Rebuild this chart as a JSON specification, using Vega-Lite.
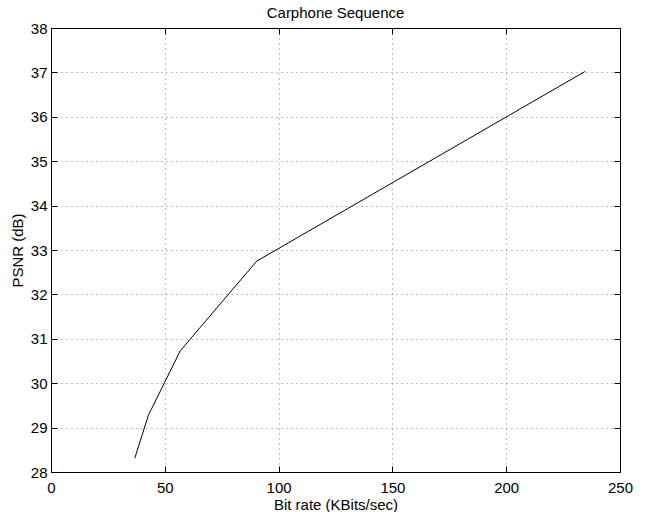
{
  "$schema": "https://vega.github.io/schema/vega-lite/v6.json",
  "width": 569,
  "height": 444,
  "autosize": {"type": "none"},
  "padding": {"left": 51, "top": 28, "right": 27, "bottom": 40},
  "background": "white",
  "title": {
    "text": "Carphone Sequence",
    "font": "Liberation Sans",
    "fontSize": 15,
    "fontWeight": "normal",
    "color": "black",
    "baseline": "alphabetic",
    "offset": 9,
    "dy": 21
  },
  "config": {
    "view": {"stroke": "black", "strokeWidth": 1},
    "axis": {
      "labelFont": "Liberation Sans",
      "titleFont": "Liberation Sans",
      "labelFontSize": 15,
      "titleFontSize": 15,
      "titleFontWeight": "normal",
      "labelColor": "black",
      "titleColor": "black",
      "domain": false,
      "tickColor": "black",
      "tickSize": -6,
      "tickWidth": 1
    }
  },
  "data": {
    "values": [
      {"rate": 36.8, "psnr": 28.31},
      {"rate": 42.8, "psnr": 29.28},
      {"rate": 56.8, "psnr": 30.73},
      {"rate": 90.4, "psnr": 32.75},
      {"rate": 234.6, "psnr": 37.02}
    ]
  },
  "resolve": {"axis": {"x": "independent", "y": "independent"}},
  "layer": [
    {
      "mark": {"type": "line", "color": "black", "strokeWidth": 1},
      "encoding": {
        "x": {
          "field": "rate",
          "type": "quantitative",
          "scale": {"domain": [0, 250], "nice": false, "zero": false},
          "axis": {
            "orient": "bottom",
            "title": "Bit rate (KBits/sec)",
            "values": [0, 50, 100, 150, 200, 250],
            "grid": true,
            "gridColor": "black",
            "gridOpacity": 0.5,
            "gridDash": [1, 4],
            "labelPadding": 14,
            "titlePadding": 2,
            "labelFlush": false
          }
        },
        "y": {
          "field": "psnr",
          "type": "quantitative",
          "scale": {"domain": [28, 38], "nice": false, "zero": false},
          "axis": {
            "orient": "left",
            "title": "PSNR (dB)",
            "values": [28, 29, 30, 31, 32, 33, 34, 35, 36, 37, 38],
            "grid": true,
            "gridColor": "black",
            "gridOpacity": 0.5,
            "gridDash": [1, 4],
            "labelPadding": 10,
            "titlePadding": 5,
            "labelFlush": false
          }
        }
      }
    },
    {
      "mark": {"type": "line", "opacity": 0},
      "encoding": {
        "x": {
          "field": "rate",
          "type": "quantitative",
          "axis": {
            "orient": "top",
            "title": null,
            "labels": false,
            "grid": false,
            "values": [0, 50, 100, 150, 200, 250]
          }
        },
        "y": {
          "field": "psnr",
          "type": "quantitative",
          "axis": {
            "orient": "right",
            "title": null,
            "labels": false,
            "grid": false,
            "values": [28, 29, 30, 31, 32, 33, 34, 35, 36, 37, 38]
          }
        }
      }
    }
  ]
}
